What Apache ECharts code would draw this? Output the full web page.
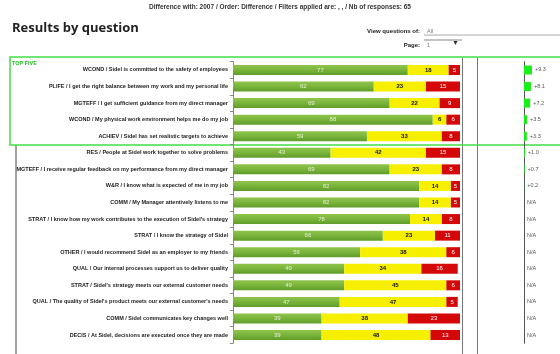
<!DOCTYPE html>
<html><head><meta charset="utf-8">
<script src="https://cdn.jsdelivr.net/npm/echarts@6/dist/echarts.min.js"></script>
<style>html,body{margin:0;padding:0;background:#fff}#c{width:560px;height:354px}</style>
</head><body><div id="c"></div>
<script>
const categories = [
  "WCOND / Sidel is committed to the safety of employees",
  "PLIFE / I get the right balance between my work and my personal life",
  "MGTEFF / I get sufficient guidance from my direct manager",
  "WCOND / My physical work environment helps me do my job",
  "ACHIEV / Sidel has set realistic targets to achieve",
  "RES / People at Sidel work together to solve problems",
  "MGTEFF / I receive regular feedback on my performance from my direct manager",
  "W&R / I know what is expected of me in my job",
  "COMM / My Manager attentively listens to me",
  "STRAT / I know how my work contributes to the execution of Sidel's strategy",
  "STRAT / I know the strategy of Sidel",
  "OTHER / I would recommend Sidel as an employer to my friends",
  "QUAL / Our internal processes support us to deliver quality",
  "STRAT / Sidel's strategy meets our external customer needs",
  "QUAL / The quality of Sidel's product meets our external customer's needs",
  "COMM / Sidel communicates key changes well",
  "DECIS / At Sidel, decisions are executed once they are made"
];
const favourable = [77, 62, 69, 88, 59, 43, 69, 82, 82, 78, 66, 56, 49, 49, 47, 39, 39];
const neutral    = [18, 23, 22, 6, 33, 42, 23, 14, 14, 14, 23, 38, 34, 45, 47, 38, 48];
const unfavourable = [5, 15, 9, 6, 8, 15, 8, 5, 5, 8, 11, 6, 16, 6, 5, 23, 13];
const differences = [9.3, 8.1, 7.2, 3.5, 3.3, 1.0, 0.7, 0.2, null, null, null, null, null, null, null, null, null];

const chart = echarts.init(document.getElementById('c'));
const sans = "'Liberation Sans',Arial,sans-serif";
const gridTop = 61.7, gridBottom = 354 - 343.3;
chart.setOption({
  animation: false,
  grid: [
    {left: 233, right: 100, top: gridTop, bottom: gridBottom, outerBoundsMode: 'none', containLabel: false},
    {left: 524, width: 30, top: gridTop, bottom: gridBottom, outerBoundsMode: 'none', containLabel: false}
  ],
  xAxis: [
    {gridIndex: 0, type: 'value', min: 0, max: 100, show: false},
    {gridIndex: 1, type: 'value', min: 0, max: 35, show: false}
  ],
  yAxis: [
    {gridIndex: 0, type: 'category', inverse: true, data: categories,
     axisLine: {show: true, lineStyle: {color: '#888', width: 1}},
     axisTick: {show: true, length: 3, lineStyle: {color: '#888'}},
     axisLabel: {fontFamily: sans, fontSize: 5.5, fontWeight: 'bold', color: '#222', margin: 5}},
    {gridIndex: 1, type: 'category', inverse: true, data: categories,
     axisLine: {show: true, lineStyle: {color: '#555', width: 1}},
     axisTick: {show: false}, axisLabel: {show: false}}
  ],
  series: [
    {type: 'bar', stack: 'a', data: favourable, barWidth: 10,
     itemStyle: {color: new echarts.graphic.LinearGradient(0,0,0,1,[
       {offset:0,color:'#90c44c'},{offset:0.45,color:'#7cb63c'},{offset:1,color:'#5f9c2a'}])},
     label: {show: true, position: 'inside', color: '#e6efd6', fontSize: 6, fontFamily: sans}},
    {type: 'bar', stack: 'a', data: neutral, barWidth: 10,
     itemStyle: {color: '#f6f000'},
     label: {show: true, position: 'inside', color: '#111', fontSize: 6, fontWeight: 'bold', fontFamily: sans}},
    {type: 'bar', stack: 'a', data: unfavourable, barWidth: 10,
     itemStyle: {color: '#d40808'},
     label: {show: true, position: 'inside', color: '#fff', fontSize: 6, fontFamily: sans}},
    {type: 'bar', xAxisIndex: 1, yAxisIndex: 1, barWidth: 9,
     data: differences.map(d => d === null ? 0 : d),
     itemStyle: {color: '#19ef19'},
     label: {show: true, position: 'right', distance: 3, color: '#555', fontSize: 5.5, fontFamily: sans,
       formatter: p => differences[p.dataIndex] === null ? 'N/A' : '+' + differences[p.dataIndex].toFixed(1)}}
  ],
  graphic: [
    {type: 'text', left: 'center', top: 4, style: {text: 'Difference with: 2007 / Order: Difference / Filters applied are: , , / Nb of responses: 65', fontFamily: sans, fontSize: 6.5, fontWeight: 'bold', fill: '#333'}},
    {type: 'text', left: 12, top: 22, style: {text: 'Results by question', fontFamily: "'Open Sans',sans-serif", fontSize: 13, fontWeight: 'bold', fill: '#222'}},
    {type: 'text', right: 140, top: 28, style: {text: 'View questions of:', fontFamily: sans, fontSize: 6, fontWeight: 'bold', fill: '#222'}},
    {type: 'text', left: 427, top: 28, style: {text: 'All', fontFamily: sans, fontSize: 5.5, fill: '#777'}},
    {type: 'line', shape: {x1: 424, y1: 35, x2: 560, y2: 35}, style: {stroke: '#aaa', lineWidth: 1}},
    {type: 'text', right: 140, top: 42, style: {text: 'Page:', fontFamily: sans, fontSize: 6, fontWeight: 'bold', fill: '#222'}},
    {type: 'text', left: 427, top: 42, style: {text: '1', fontFamily: sans, fontSize: 5.5, fill: '#777'}},
    {type: 'line', shape: {x1: 424, y1: 40, x2: 462, y2: 40}, style: {stroke: '#888', lineWidth: 1}},
    {type: 'text', left: 452, top: 40, style: {text: '▼', fontSize: 7, fill: '#333'}},
    {type: 'line', shape: {x1: 16, y1: 145, x2: 16, y2: 354}, style: {stroke: '#444', lineWidth: 1}},
    {type: 'line', shape: {x1: 462.5, y1: 58, x2: 462.5, y2: 354}, style: {stroke: '#777', lineWidth: 1}},
    {type: 'line', shape: {x1: 477.5, y1: 58, x2: 477.5, y2: 354}, style: {stroke: '#777', lineWidth: 1}},
    {type: 'rect', shape: {x: 10, y: 57, width: 560, height: 88}, style: {fill: 'none', stroke: '#44dd44', lineWidth: 1.5}},
    {type: 'text', left: 12, top: 60, style: {text: 'TOP FIVE', fontFamily: sans, fontSize: 5.5, fontWeight: 'bold', fill: '#22bb22'}}
  ]
});
</script></body></html>
